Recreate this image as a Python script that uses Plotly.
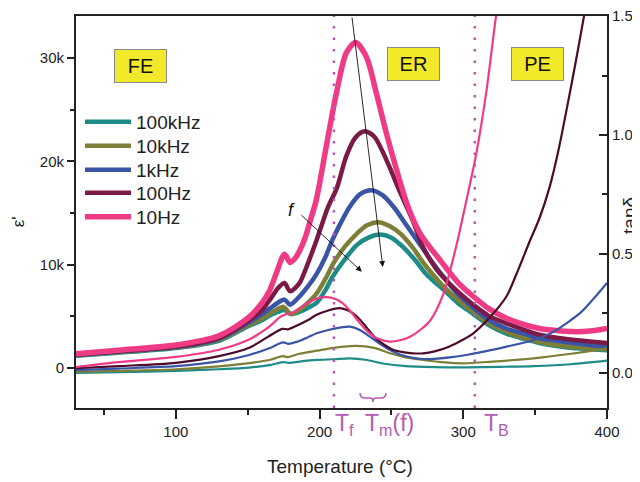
import plotly.graph_objects as go

# ---------------- data ----------------
# epsilon' (in thousands), thick lines, left axis
T_e100kHz = [30, 60, 100, 130, 150, 160, 166, 171, 175.6, 180, 186, 192, 198, 204, 209, 217, 226, 234, 242, 250, 258, 266, 274, 280, 286, 296, 307, 318, 330, 342, 353, 365, 376, 388, 400]
e100kHz = [1.15, 1.45, 1.9, 2.6, 4.0, 4.6, 5.1, 5.4, 5.6, 5.2, 5.4, 5.8, 6.3, 7.5, 8.8, 10.4, 11.9, 12.6, 12.9, 12.6, 11.7, 10.5, 9.1, 8.3, 7.6, 6.3, 5.2, 4.1, 3.3, 2.8, 2.4, 2.1, 1.9, 1.8, 1.7]

T_e10kHz = [30, 60, 100, 130, 150, 160, 166, 171, 175, 180, 186, 192, 198, 204, 210, 218, 226, 233, 241, 249, 257, 265, 272, 279, 286, 296, 307, 318, 330, 342, 353, 365, 376, 388, 400]
e10kHz = [1.2, 1.5, 1.95, 2.7, 4.1, 4.8, 5.3, 5.7, 5.9, 5.2, 5.6, 6.3, 7.2, 8.6, 10.2, 11.8, 13.0, 13.8, 14.1, 13.7, 12.9, 11.6, 10.2, 9.0, 7.9, 6.6, 5.4, 4.3, 3.5, 2.9, 2.5, 2.2, 2.0, 1.9, 1.8]

T_e1kHz = [30, 60, 100, 130, 150, 160, 166, 171, 175.6, 179.5, 186, 192, 198, 204, 209, 215, 221, 228, 236, 244, 252, 260, 268, 276, 284, 295, 307, 318, 330, 342, 353, 365, 376, 388, 400]
e1kHz = [1.22, 1.55, 2.0, 2.8, 4.3, 5.2, 5.8, 6.3, 6.6, 6.1, 6.9, 7.9, 9.1, 10.7, 12.4, 14.1, 15.6, 16.8, 17.2, 16.7, 15.5, 13.9, 12.3, 10.7, 9.2, 7.3, 5.8, 4.6, 3.8, 3.3, 2.85, 2.6, 2.4, 2.2, 2.0]

T_e100Hz = [30, 60, 100, 130, 150, 160, 166, 171, 175.6, 179.5, 186, 191, 198, 206, 212, 218.6, 225, 231.4, 238, 244, 250, 256, 265, 272, 281, 290, 300, 307, 318, 330, 342, 353, 365, 376, 388, 400]
e100Hz = [1.25, 1.6, 2.05, 2.9, 4.5, 5.6, 6.7, 7.7, 8.2, 7.4, 8.2, 9.8, 12.4, 15.6, 17.4, 20.5, 22.3, 22.9, 22.4, 20.9, 19.0, 17.0, 14.2, 11.7, 9.6, 8.2, 6.9, 6.1, 5.0, 4.3, 3.7, 3.2, 2.9, 2.7, 2.55, 2.4]

T_e10Hz = [30, 60, 100, 130, 150, 160, 165, 170, 175.6, 179.5, 183, 186, 190, 193, 197.6, 204.6, 211.7, 218.6, 225, 232.6, 239.5, 246.5, 253.5, 261, 270, 284, 296, 307, 318, 330, 342, 353, 365, 376, 388, 400]
e10Hz = [1.36, 1.7, 2.2, 3.1, 4.8, 6.3, 7.4, 9.2, 11.0, 10.2, 10.6, 11.3, 12.6, 14.0, 16.2, 21.4, 26.6, 30.5, 31.5, 30.1, 26.6, 22.7, 19.2, 15.8, 13.0, 10.4, 8.3, 6.9, 5.7, 4.8, 4.2, 3.8, 3.6, 3.5, 3.55, 3.8]

# tan(delta), thin lines, right axis
T_t100kHz = [30, 60, 100, 130, 151, 165, 174.5, 179, 186, 198, 210, 221, 232, 245, 260, 280, 302, 325, 349, 375, 400]
t100kHz = [0.0, 0.003, 0.008, 0.015, 0.022, 0.032, 0.045, 0.042, 0.047, 0.054, 0.057, 0.061, 0.055, 0.038, 0.028, 0.024, 0.023, 0.025, 0.028, 0.036, 0.051]

T_t10kHz = [30, 60, 100, 130, 151, 165, 174.5, 178, 186, 198, 210, 225, 238, 249, 260, 272, 285, 300, 320, 349, 375, 400]
t10kHz = [0.004, 0.008, 0.015, 0.027, 0.041, 0.054, 0.07, 0.066, 0.08, 0.093, 0.105, 0.113, 0.105, 0.082, 0.065, 0.054, 0.045, 0.04, 0.047, 0.061, 0.08, 0.103]

T_t1kHz = [30, 60, 100, 130, 151, 165, 174.5, 178, 184, 192, 198, 206, 214, 221, 228, 235, 242, 249, 257, 265, 272, 282, 292, 302, 315, 330, 349, 362, 372, 382, 390, 400]
t1kHz = [0.011, 0.018, 0.028, 0.048, 0.075, 0.103, 0.128, 0.122, 0.13, 0.15, 0.166, 0.18, 0.19, 0.194, 0.18, 0.152, 0.122, 0.096, 0.075, 0.063, 0.058, 0.06, 0.066, 0.075, 0.09, 0.11, 0.138, 0.17, 0.209, 0.255, 0.307, 0.378]

T_t100Hz = [30, 60, 100, 130, 151, 165, 174, 178, 184, 192, 198, 206, 214, 220, 226, 232, 238, 245, 251, 258, 265, 272, 280, 290, 300, 307, 318, 330, 338, 346, 353, 360, 366, 372, 378, 384, 388]
t100Hz = [0.019, 0.028, 0.042, 0.07, 0.105, 0.155, 0.185, 0.183, 0.198, 0.222, 0.244, 0.262, 0.272, 0.262, 0.237, 0.196, 0.152, 0.118, 0.097, 0.087, 0.082, 0.082, 0.09, 0.11, 0.14, 0.166, 0.23, 0.321, 0.43, 0.55, 0.65, 0.78, 0.93, 1.11, 1.3, 1.5, 1.65]

T_t10Hz = [30, 60, 100, 130, 151, 158, 165, 172, 176, 180, 186, 192, 198, 205, 211, 216, 222, 228, 234, 240, 249, 256, 263, 270, 277, 286, 295, 302, 309, 316, 323, 328]
t10Hz = [0.024, 0.045, 0.067, 0.097, 0.14, 0.165, 0.194, 0.232, 0.245, 0.25, 0.272, 0.295, 0.312, 0.318, 0.31, 0.293, 0.255, 0.209, 0.17, 0.145, 0.131, 0.137, 0.152, 0.18, 0.22, 0.33, 0.53, 0.72, 0.92, 1.18, 1.51, 1.7]

labels = ["100kHz", "10kHz", "1kHz", "100Hz", "10Hz"]
eps_T = [T_e100kHz, T_e10kHz, T_e1kHz, T_e100Hz, T_e10Hz]
eps_V = [e100kHz, e10kHz, e1kHz, e100Hz, e10Hz]
tan_T = [T_t100kHz, T_t10kHz, T_t1kHz, T_t100Hz, T_t10Hz]
tan_V = [t100kHz, t10kHz, t1kHz, t100Hz, t10Hz]

eps_ticks = [0, 10, 20, 30]
eps_ticktext = ["0", "10k", "20k", "30k"]
tan_ticks = [0.0, 0.5, 1.0, 1.5]
tan_ticktext = ["0.0", "0.5", "1.0", "1.5"]
T_ticks = [100, 200, 300, 400]
T_f, T_B = 210, 308

# ---------------- styling ----------------
thick_colors = ["#1e8b89", "#7d7f36", "#3a54a6", "#7b1a47", "#ef3b86"]
thin_colors = ["#1e8b89", "#7d7f36", "#3a54a6", "#4d0b2b", "#ef3b86"]
thick_widths = [4.5, 4.5, 4.5, 4.5, 5.5]
PURPLE = "#b45ab4"
FONT = "Liberation Sans, Arial, sans-serif"
AX = "#222222"

# the page body has an 8px margin: figure is sized to fit the 640x482 window
W, H = 632, 474
PL, PT, PR, PB = 68, 8, 33, 74

legend_names = ["legend", "legend2", "legend3", "legend4", "legend5"]
legend_rows_px = [122, 146, 170, 193, 217]  # window pixel rows of the legend entries

fig = go.Figure()
for lab, tx, vy, c, w, lg in zip(labels, eps_T, eps_V, thick_colors, thick_widths, legend_names):
    fig.add_trace(go.Scatter(x=tx, y=vy, mode="lines", name=lab, legend=lg,
                             line=dict(color=c, width=w, shape="spline", smoothing=0.8)))
for lab, tx, vy, c in zip(labels, tan_T, tan_V, thin_colors):
    fig.add_trace(go.Scatter(x=tx, y=vy, mode="lines", name=lab + " tanδ", yaxis="y2",
                             showlegend=False,
                             line=dict(color=c, width=2.2, shape="spline", smoothing=0.8)))

ph = H - PT - PB
leg_layout = {}
for lg, row in zip(legend_names, legend_rows_px):
    leg_layout[lg] = dict(x=4 / 531, y=(408 - row) / ph, xanchor="left", yanchor="middle",
                          bgcolor="rgba(0,0,0,0)", font=dict(size=19, color="#222"),
                          itemwidth=46, borderwidth=0)

fig.update_layout(
    width=W, height=H,
    margin=dict(l=PL, r=PR, t=PT, b=PB, autoexpand=False),
    paper_bgcolor="white", plot_bgcolor="white",
    font=dict(family=FONT, size=15, color="#222"),
    showlegend=True,
    xaxis=dict(range=[30.5, 400], showgrid=False, zeroline=False,
               showline=True, linecolor=AX, linewidth=2, mirror=True,
               ticks="outside", ticklen=9, tickwidth=1.5, tickcolor=AX,
               tickmode="array", tickvals=T_ticks,
               minor=dict(ticks="outside", ticklen=5, tickwidth=1.5, tickcolor=AX,
                          tickmode="linear", tick0=50, dtick=100),
               tickfont=dict(size=15)),
    yaxis=dict(range=[-3.9, 34.07], showgrid=False, zeroline=False,
               showline=True, linecolor=AX, linewidth=2,
               ticks="outside", ticklen=7, tickwidth=1.5, tickcolor=AX,
               tickmode="array", tickvals=eps_ticks, ticktext=eps_ticktext,
               minor=dict(ticks="outside", ticklen=4, tickwidth=1.5, tickcolor=AX,
                          tickmode="linear", tick0=0, dtick=5),
               tickfont=dict(size=15)),
    yaxis2=dict(range=[-0.148, 1.5005], overlaying="y", side="right", showgrid=False,
                zeroline=False, showline=True, linecolor=AX, linewidth=2,
                ticks="inside", ticklen=8, tickwidth=1.5, tickcolor=AX,
                tickmode="array", tickvals=tan_ticks, ticktext=tan_ticktext,
                ticklabeloverflow="allow",
                minor=dict(ticks="inside", ticklen=5, tickwidth=1.5, tickcolor=AX,
                           tickmode="linear", tick0=0, dtick=0.25),
                tickfont=dict(size=15)),
    **leg_layout,
)

# dotted transition lines
for tv in (T_f, T_B):
    fig.add_shape(type="line", xref="x", yref="paper", x0=tv, x1=tv, y0=0, y1=1,
                  line=dict(color=PURPLE, width=2.5, dash="2.5px,9px"))

# brace under T_m
fig.add_shape(type="path", xref="paper", yref="paper",
              path=("M0.5348,0.0383 Q0.5348,0.0255 0.5443,0.0255 L0.5537,0.0255 "
                    "Q0.5593,0.0255 0.5593,0.0153 Q0.5593,0.0255 0.5650,0.0255 "
                    "L0.5744,0.0255 Q0.5838,0.0255 0.5838,0.0383"),
              line=dict(color=PURPLE, width=1.5))

ann = []
# phase boxes
for txt, px, py in (("FE", 0.1224, 0.8717), ("ER", 0.6365, 0.8776), ("PE", 0.8682, 0.8776)):
    ann.append(dict(text=txt, xref="paper", yref="paper", x=px, y=py, showarrow=False,
                    xanchor="center", yanchor="middle", width=51, height=32,
                    bgcolor="#f1e92a", bordercolor="#8a8a8a", borderwidth=1, borderpad=0,
                    font=dict(size=20, color="#111")))
# axis titles
ann.append(dict(text="Temperature (°C)", xref="paper", yref="paper", x=0.497, y=-0.1505,
                showarrow=False, xanchor="center", yanchor="middle",
                font=dict(size=19, color="#222")))
ann.append(dict(text="ε'", xref="paper", yref="paper", x=-0.109, y=0.474, textangle=-90,
                showarrow=False, xanchor="center", yanchor="middle",
                font=dict(size=17, color="#222")))
ann.append(dict(text="tanδ", xref="paper", yref="paper", x=1.041, y=0.492, textangle=-90,
                showarrow=False, xanchor="center", yanchor="middle",
                font=dict(size=19, color="#222")))
# temperature markers
for txt, px in (("T<sub>f</sub>", 0.5056), ("T<sub>m</sub>(f)", 0.591), ("T<sub>B</sub>", 0.791)):
    ann.append(dict(text=txt, xref="paper", yref="paper", x=px, y=0.0,
                    showarrow=False, xanchor="center", yanchor="top",
                    font=dict(size=23, color=PURPLE)))
# frequency arrows
ann.append(dict(text="", x=244.0, y=9.76, xref="x", yref="y", ax=-31, ay=-251,
                showarrow=True, arrowhead=2, arrowsize=1.3, arrowwidth=0.9, arrowcolor="#111"))
ann.append(dict(text="", x=229.4, y=9.3, xref="x", yref="y", ax=-62, ay=-58,
                showarrow=True, arrowhead=2, arrowsize=1.3, arrowwidth=0.9, arrowcolor="#111"))
ann.append(dict(text="<i>f</i>", xref="paper", yref="paper", x=(291 - 76) / 531,
                y=(408 - 210) / 392, showarrow=False, xanchor="center", yanchor="middle",
                font=dict(size=18, color="#111")))
fig.update_layout(annotations=ann)

fig.write_html("out.html")
